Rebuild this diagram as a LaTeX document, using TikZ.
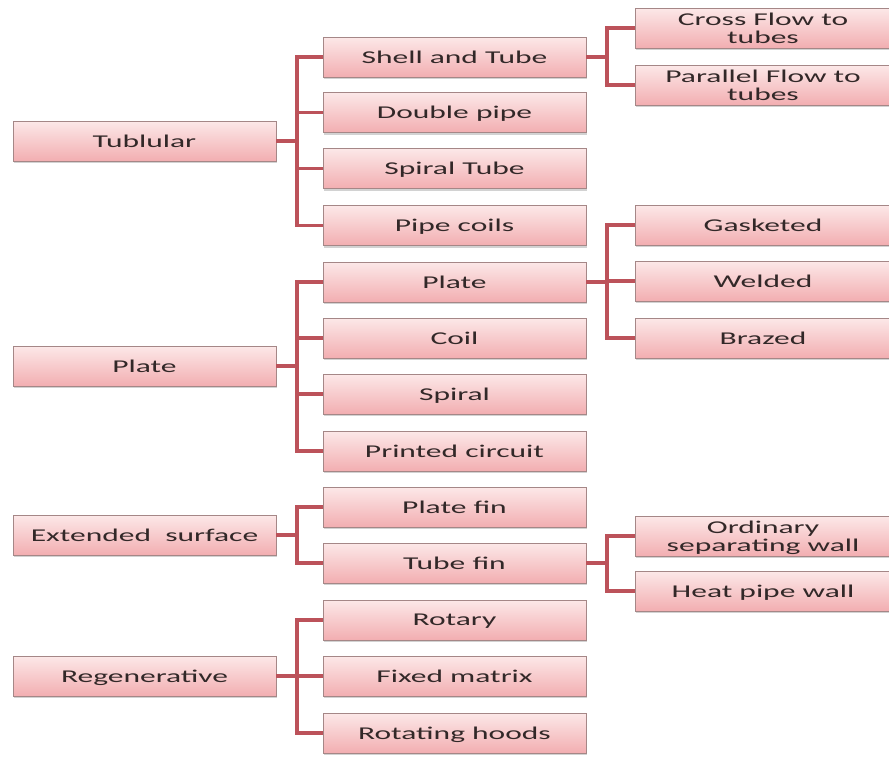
\documentclass[tikz,border=0pt]{standalone}
\usepackage{fontspec}
\setmainfont{Carlito}
\usetikzlibrary{shadows}
\definecolor{conn}{RGB}{188,82,90}
\definecolor{bordr}{RGB}{165,135,135}
\definecolor{ftop}{RGB}{252,232,232}
\definecolor{fbot}{RGB}{242,174,177}
\definecolor{txt}{RGB}{50,40,40}
\newcommand{\bxt}[1]{\raisebox{-2.5pt}[\height][\depth]{\scalebox{1.75}[1]{\fontsize{18pt}{17pt}\selectfont\begin{tabular}{@{}c@{}}#1\end{tabular}}}}
\tikzset{
  box/.style={draw=bordr, line width=0.7pt, top color=ftop, bottom color=fbot,
    minimum height=40pt, inner sep=0pt, text=txt,
    drop shadow={opacity=0.35, shadow xshift=1pt, shadow yshift=-2pt}},
  lbox/.style={box, minimum width=263pt},
  rbox/.style={box, minimum width=256pt},
  link/.style={draw=conn, line width=3.3pt}
}
\begin{document}
\begin{tikzpicture}[x=1pt,y=-1pt]
\useasboundingbox (0,0) rectangle (889,756);
\clip (0,0) rectangle (889,756);
\fill[white] (0,0) rectangle (889,756);
% group 1
\node[lbox] (tub) at (144.5,141) {\bxt{Tublular}};
\node[lbox] (shell) at (454.5,57) {\bxt{Shell and Tube}};
\node[lbox] (dbl) at (454.5,112.5) {\bxt{Double pipe}};
\node[lbox] (spt) at (454.5,168.5) {\bxt{Spiral Tube}};
\node[lbox] (pcoil) at (454.5,225.5) {\bxt{Pipe coils}};
\node[rbox] (cross) at (763,28) {\bxt{Cross Flow to\\tubes}};
\node[rbox] (par) at (763,85) {\bxt{Parallel Flow to\\tubes}};
% group 2
\node[lbox] (pl) at (144.5,366) {\bxt{Plate}};
\node[lbox] (plate) at (454.5,282) {\bxt{Plate}};
\node[lbox] (coil) at (454.5,338) {\bxt{Coil}};
\node[lbox] (spiral) at (454.5,394) {\bxt{Spiral}};
\node[lbox] (pcirc) at (454.5,451) {\bxt{Printed circuit}};
\node[rbox] (gask) at (763,225) {\bxt{Gasketed}};
\node[rbox] (weld) at (763,281) {\bxt{Welded}};
\node[rbox] (braz) at (763,338) {\bxt{Brazed}};
% group 3
\node[lbox] (ext) at (144.5,535) {\bxt{Extended\ \ surface}};
\node[lbox] (pfin) at (454.5,507) {\bxt{Plate fin}};
\node[lbox] (tfin) at (454.5,563) {\bxt{Tube fin}};
\node[rbox] (ord) at (763,536) {\bxt{Ordinary\\separating wall}};
\node[rbox] (heat) at (763,591) {\bxt{Heat pipe wall}};
% group 4
\node[lbox] (reg) at (144.5,676) {\bxt{Regenerative}};
\node[lbox] (rot) at (454.5,620) {\bxt{Rotary}};
\node[lbox] (fix) at (454.5,676) {\bxt{Fixed matrix}};
\node[lbox] (rhood) at (454.5,733) {\bxt{Rotating hoods}};
% bracket coordinates
\coordinate (b1) at (297,141);
\coordinate (b1r) at (607,57);
\coordinate (b2) at (297,366);
\coordinate (b2r) at (607,282);
\coordinate (b3) at (297,535);
\coordinate (b3r) at (607,563);
\coordinate (b4) at (297,676);
% connectors
\draw[link] (tub.east) -- (b1);
\foreach \c in {shell,dbl,spt,pcoil} \draw[link] (b1) |- (\c.west);
\draw[link] (shell.east) -- (b1r);
\foreach \c in {cross,par} \draw[link] (b1r) |- (\c.west);
\draw[link] (pl.east) -- (b2);
\foreach \c in {plate,coil,spiral,pcirc} \draw[link] (b2) |- (\c.west);
\draw[link] (plate.east) -- (b2r);
\foreach \c in {gask,weld,braz} \draw[link] (b2r) |- (\c.west);
\draw[link] (ext.east) -- (b3);
\foreach \c in {pfin,tfin} \draw[link] (b3) |- (\c.west);
\draw[link] (tfin.east) -- (b3r);
\foreach \c in {ord,heat} \draw[link] (b3r) |- (\c.west);
\draw[link] (reg.east) -- (b4);
\foreach \c in {rot,fix,rhood} \draw[link] (b4) |- (\c.west);
\end{tikzpicture}
\end{document}
